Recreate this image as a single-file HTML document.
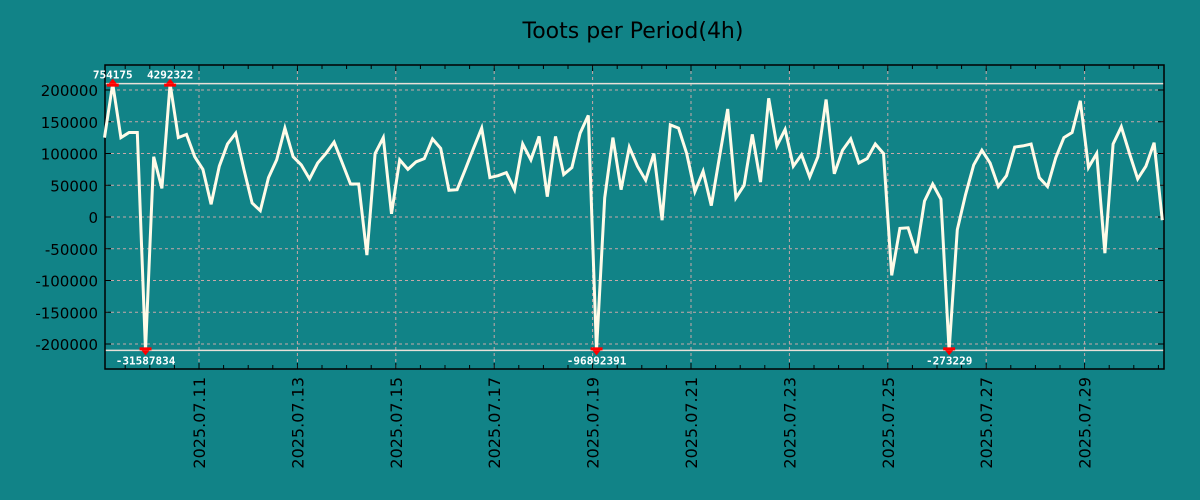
<!DOCTYPE html>
<html><head><meta charset="utf-8"><style>
html,body{margin:0;padding:0;background:#118387;}
svg{display:block;font-family:"DejaVu Sans","Liberation Sans",sans-serif;}
</style></head><body>
<svg id="chart" width="1200" height="500" viewBox="0 0 1200 500" xmlns="http://www.w3.org/2000/svg">
<rect width="1200" height="500" fill="#118387"/>
<text x="633" y="38" text-anchor="middle" font-size="22" fill="#000">Toots per Period(4h)</text>
<g id="grid"></g><g id="axes"></g><g id="series"></g><g id="marks"></g>
</svg>
<script>
// data (thousands of toots per 4h period; clipped extremes at ±210)
const values = [125,210,125,133,133,-210,95,45,210,125,130,95,75,20,80,115,132,75,22,10,62,90,140,95,82,60,85,100,118,85,52,52,-60,100,125,5,90,75,87,92,123,108,42,43,75,108,140,62,65,70,43,115,90,127,32,127,67,78,132,160,-210,30,125,43,110,80,58,100,-5,145,140,100,40,72,18,95,170,30,50,130,55,187,112,138,80,98,63,95,185,68,105,123,85,92,115,100,-92,-18,-17,-57,25,52,28,-210,-20,35,82,105,85,48,65,110,112,115,62,48,93,125,133,183,78,100,-57,115,142,100,60,80,117,-5];
const yTicks = [200000,150000,100000,50000,0,-50000,-100000,-150000,-200000];
const dateLabels = ["2025.07.11","2025.07.13","2025.07.15","2025.07.17","2025.07.19","2025.07.21","2025.07.23","2025.07.25","2025.07.27","2025.07.29"];
const annotations = [{i:1,label:"754175",top:true},{i:8,label:"4292322",top:true},{i:5,label:"-31587834",top:false},{i:60,label:"-96892391",top:false},{i:103,label:"-273229",top:false}];
const startDay = -1.92; // days relative to 2025.07.11 00:00
const periodDays = 4/24;

const L=105,R=1164,T=65,B=369;
const dayPx = 49.2, day0X = 199;
function xDay(d){return day0X + d*dayPx;}
function xIdx(i){return xDay(startDay + i*periodDays);}
function yVal(v){return 217 - v*0.000635;}
const NS="http://www.w3.org/2000/svg";
function mk(tag,parent,attrs){const e=document.createElementNS(NS,tag);for(const k in attrs)e.setAttribute(k,attrs[k]);parent.appendChild(e);return e;}
const grid=document.getElementById('grid'),axes=document.getElementById('axes'),series=document.getElementById('series'),marks=document.getElementById('marks');

yTicks.forEach(v=>{
  const y=yVal(v);
  const g=mk('line',grid,{x1:L,x2:R,y1:y,y2:y,stroke:'#c8a8a8','stroke-width':1,'stroke-dasharray':'3,3'});
  
  
  const t=mk('text',axes,{x:98,y:y+6,'text-anchor':'end','font-size':15,fill:'#000'});
  t.textContent=String(v);
  
  
  mk('line',axes,{x1:L,x2:L+6,y1:y,y2:y,stroke:'#000'});
  mk('line',axes,{x1:R-6,x2:R,y1:y,y2:y,stroke:'#000'});
});
dateLabels.forEach((lab,k)=>{
  const x=xDay(k*2);
  const g=mk('line',grid,{x1:x,x2:x,y1:T,y2:B,stroke:'#c8a8a8','stroke-width':1,'stroke-dasharray':'3,3'});
  
  
  const t=mk('text',axes,{x:0,y:0,'text-anchor':'end','font-size':16,fill:'#000',transform:`translate(${x+6},377) rotate(-90)`});
  t.textContent=lab;
  
  
});
for(let h=Math.ceil(startDay*2);;h++){const x=xDay(h/2);if(x>R)break;if(x<L)continue;
  const len=(h%4===0)?6:4;
  mk('line',axes,{x1:x,x2:x,y1:B,y2:B-len,stroke:'#000'});
  mk('line',axes,{x1:x,x2:x,y1:T,y2:T+len,stroke:'#000'});
}
// clip lines
[210000,-210000].forEach(v=>{const l=mk('line',grid,{x1:L,x2:R,y1:yVal(v),y2:yVal(v),stroke:'#e8e0d8','stroke-width':1.5});
  
  });
const frame=mk('rect',axes,{x:L,y:T,width:R-L,height:B-T,fill:'none',stroke:'#000','stroke-width':1.5});



const pts=values.map((v,i)=>xIdx(i).toFixed(1)+','+yVal(v*1000).toFixed(1)).join(' ');
const line=mk('polyline',series,{points:pts,fill:'none',stroke:'#fffbe8','stroke-width':3,'stroke-linejoin':'miter'});



annotations.forEach(a=>{
  const x=xIdx(a.i),y=yVal(values[a.i]*1000);
  if(a.top){
    mk('polygon',marks,{points:`${x-4},${y} ${x+4},${y} ${x},${y-5}`,fill:'#f00'});
    mk('rect',marks,{x:x-6,y:y,width:12,height:3,fill:'#f00'});
  } else {
    mk('rect',marks,{x:x-6,y:y-3,width:12,height:3,fill:'#f00'});
    mk('polygon',marks,{points:`${x-4},${y} ${x+4},${y} ${x},${y+5}`,fill:'#f00'});
  }
  const t=mk('text',marks,{x:x,y:a.top?y-5:y+14,'text-anchor':'middle','font-size':11,'font-weight':'bold',fill:'#fff','font-family':'"DejaVu Sans Mono","Liberation Mono",monospace'});
  t.textContent=a.label;
  
  
});
</script>
</body></html>
